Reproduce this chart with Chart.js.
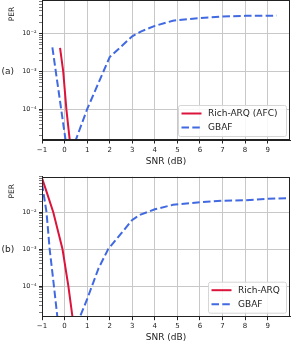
<!DOCTYPE html>
<html>
<head>
<meta charset="utf-8">
<script src="https://cdn.jsdelivr.net/npm/chart.js@4/dist/chart.umd.min.js"></script>
<style>
  html, body { margin: 0; padding: 0; background: #fff; overflow: hidden; }
  .panel { position: absolute; left: 0; width: 293px; }
</style>
</head>
<body>
<div class="panel" style="top:-3px;height:173px"><canvas id="chartA" width="293" height="173"></canvas></div>
<div class="panel" style="top:170px;height:174px"><canvas id="chartB" width="293" height="174"></canvas></div>
<script>
// x axis ticks
const snrTicks = [-1, 0, 1, 2, 3, 4, 5, 6, 7, 8, 9];
const snrTickLabels = ['\u22121', '0', '1', '2', '3', '4', '5', '6', '7', '8', '9'];

// y axis ticks (log)
const perMajorTicks = [1e-4, 1e-3, 1e-2];
const perMajorLabels = ['10\u207b\u2074', '10\u207b\u00b3', '10\u207b\u00b2'];
const perDecades = [1e-5, 1e-4, 1e-3, 1e-2];
const perMinorSteps = [1, 2, 3, 4, 5, 6, 7, 8, 9];

// panel (a)
const snrA_rich = [-0.2, -0.06, 0.08, 0.23, 0.32];
const perA_rich = [4.2e-3, 1e-3, 1e-4, 1.5e-5, 5e-6];
const snrA_gbaf = [-0.54, 0.16, 0.5, 1.0, 2.0, 3.0, 3.4, 4.0, 4.8, 6.0, 7.0, 8.0, 9.4];
const perA_gbaf = [4.3e-3, 5e-6, 1.55e-5, 1e-4, 2.4e-3, 8.5e-3, 1.15e-2, 1.6e-2, 2.2e-2, 2.6e-2, 2.85e-2, 2.95e-2, 3.0e-2];

// panel (b)
const snrB_rich = [-1.0, -0.8, -0.5, -0.09, 0.17, 0.35, 0.45];
const perB_rich = [8.3e-2, 3.6e-2, 1e-2, 1e-3, 1e-4, 1.5e-5, 5e-6];
const snrB_gbaf = [-1.0, -0.8, -0.66, -0.47, -0.32, -0.1, 0.68, 1.0, 1.5, 1.93, 3.0, 3.34, 4.0, 4.8, 6.0, 7.0, 8.0, 9.0, 10.0];
const perB_gbaf = [6e-2, 1e-2, 1e-3, 1e-4, 1.5e-5, 1e-6, 1.5e-5, 4.5e-5, 3e-4, 1e-3, 6.2e-3, 8.5e-3, 1.2e-2, 1.58e-2, 1.86e-2, 2.04e-2, 2.1e-2, 2.3e-2, 2.4e-2];

Chart.defaults.font.family = '"DejaVu Sans", sans-serif';
Chart.defaults.color = '#222';

const RED = '#dc143c';
const BLUE = '#4169e1';
const GRID = '#c8c8c8';
const INK = '#222';

const isPow10 = (v) => Math.abs(Math.log10(v) - Math.round(Math.log10(v))) < 1e-6;

const perTickValues = [];
perDecades.forEach(d => perMinorSteps.forEach(m => perTickValues.push(m * d)));

const toPoints = (xs, ys) => xs.map((x, i) => ({ x: x, y: ys[i] }));

// frame, side labels and in-axes legend
const panelDecor = {
  id: 'panelDecor',
  afterDraw(chart, args, opts) {
    const { ctx, chartArea: a, scales } = chart;
    ctx.save();
    ctx.strokeStyle = INK;
    ctx.lineWidth = 1;
    const l = Math.round(a.left) + 0.5, t = Math.round(a.top) + 0.5;
    const r = Math.round(a.right) - 0.5, b = Math.round(a.bottom) - 0.5;
    ctx.strokeRect(l, t, r - l, b - t);

    ctx.fillStyle = INK;
    ctx.font = '9px "DejaVu Sans"';
    ctx.textAlign = 'left';
    ctx.textBaseline = 'middle';
    ctx.fillText(opts.panel, 1.5, scales.y.getPixelForValue(1e-3));

    ctx.save();
    ctx.translate(12, a.top + 14.5);
    ctx.rotate(-Math.PI / 2);
    ctx.textAlign = 'center';
    ctx.font = '7.5px "DejaVu Sans"';
    ctx.fillText('PER', 0, 0);
    ctx.restore();

    // legend
    const w = opts.legendWidth, h = 31;
    const lx = a.right - 4 - w, ly = a.bottom - 4 - h;
    ctx.beginPath();
    ctx.roundRect(lx + 0.5, ly + 0.5, w, h, 2);
    ctx.fillStyle = 'rgba(255,255,255,0.85)';
    ctx.fill();
    ctx.strokeStyle = '#d6d6d6';
    ctx.stroke();
    ctx.font = '9px "DejaVu Sans"';
    chart.data.datasets.forEach((ds, i) => {
      const yy = ly + 8.5 + i * 14;
      ctx.beginPath();
      ctx.strokeStyle = ds.borderColor;
      ctx.lineWidth = 2;
      ctx.setLineDash(ds.borderDash || []);
      ctx.moveTo(lx + 3.5, yy);
      ctx.lineTo(lx + 23.5, yy);
      ctx.stroke();
      ctx.setLineDash([]);
      ctx.fillStyle = INK;
      ctx.fillText(ds.label, lx + 30, yy);
    });
    ctx.restore();
  }
};

function makePanel(id, cfg) {
  return new Chart(document.getElementById(id), {
    type: 'line',
    data: {
      datasets: [
        {
          label: cfg.richLabel,
          data: toPoints(cfg.richX, cfg.richY),
          borderColor: RED, borderWidth: 2, pointRadius: 0, tension: 0, clip: 0
        },
        {
          label: 'GBAF',
          data: toPoints(cfg.gbafX, cfg.gbafY),
          borderColor: BLUE, borderWidth: 2, borderDash: [7.5, 3.3], pointRadius: 0, tension: 0, clip: 0
        }
      ]
    },
    options: {
      responsive: false,
      animation: false,
      events: [],
      layout: { padding: { top: cfg.padTop, right: 3, left: 0, bottom: 0 } },
      plugins: {
        legend: { display: false },
        tooltip: { enabled: false },
        panelDecor: { panel: cfg.panel, legendWidth: cfg.legendWidth }
      },
      scales: {
        x: {
          type: 'linear',
          min: -1,
          max: 9.99,
          afterBuildTicks: axis => { axis.ticks = snrTicks.map(v => ({ value: v })); },
          ticks: {
            autoSkip: false, maxRotation: 0, padding: 2, color: INK,
            font: { size: 7 },
            callback: v => snrTickLabels[snrTicks.indexOf(v)]
          },
          grid: { color: GRID, lineWidth: 1, tickColor: INK, tickLength: 3.5 },
          border: { color: INK, width: 1 },
          title: { display: true, text: 'SNR (dB)', color: INK, font: { size: 9 }, padding: { top: 0, bottom: cfg.titlePad } },
          afterFit: s => { s.height = cfg.xAxisHeight; }
        },
        y: {
          type: 'logarithmic',
          min: cfg.yMin,
          max: cfg.yMax,
          afterBuildTicks: axis => {
            axis.ticks = perTickValues
              .filter(v => v > axis.min && v < axis.max)
              .map(v => ({ value: v, major: isPow10(v) }));
          },
          ticks: {
            autoSkip: false, padding: 2.5, color: INK,
            font: c => ({ size: 6.5, lineHeight: (c.tick && isPow10(c.tick.value)) ? 1.2 : 0 }),
            callback: v => {
              const k = perMajorTicks.findIndex(m => Math.abs(m - v) / m < 1e-6);
              return k >= 0 ? perMajorLabels[k] : '';
            }
          },
          grid: {
            color: c => (c.tick && isPow10(c.tick.value)) ? GRID : 'rgba(0,0,0,0)',
            tickColor: INK,
            tickWidth: c => (c.tick && isPow10(c.tick.value)) ? 1 : 0.6,
            tickLength: 3
          },
          border: { color: INK, width: 1 },
          afterFit: s => { s.width = 42; }
        }
      }
    },
    plugins: [panelDecor]
  });
}

makePanel('chartA', {
  panel: '(a)', richLabel: 'Rich-ARQ (AFC)', legendWidth: 108,
  richX: snrA_rich, richY: perA_rich, gbafX: snrA_gbaf, gbafY: perA_gbaf,
  yMin: 1.53e-5, yMax: 0.08, padTop: 0, xAxisHeight: 30, titlePad: 2.5
});

makePanel('chartB', {
  panel: '(b)', richLabel: 'Rich-ARQ', legendWidth: 78,
  richX: snrB_rich, richY: perB_rich, gbafX: snrB_gbaf, gbafY: perB_gbaf,
  yMin: 1.51e-5, yMax: 0.091, padTop: 6.7, xAxisHeight: 27.3, titlePad: 1
});
</script>
</body>
</html>
